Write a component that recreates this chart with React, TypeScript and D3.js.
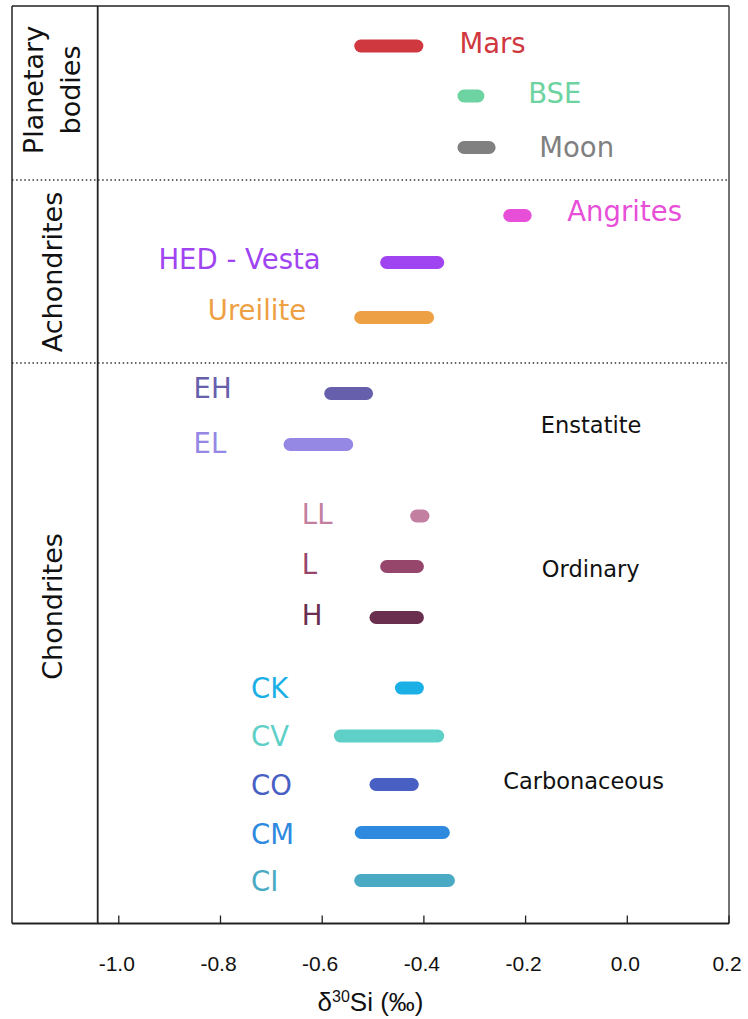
import React from "react";
import * as d3 from "d3";

const W = 748;
const H = 1019;

// rows (top to bottom)
const names = ["Mars","BSE","Moon","Angrites","HED - Vesta","Ureilite","EH","EL","LL","L","H","CK","CV","CO","CM","CI"];
const lows  = [-0.537,-0.334,-0.334,-0.244,-0.486,-0.537,-0.596,-0.676,-0.427,-0.486,-0.507,-0.457,-0.577,-0.507,-0.536,-0.537];
const highs = [-0.401,-0.281,-0.259,-0.188,-0.360,-0.380,-0.500,-0.539,-0.389,-0.400,-0.400,-0.400,-0.360,-0.410,-0.349,-0.339];
const colors = ["#d0383f","#6dd3a0","#808080","#e84fd8","#a044f2","#eea044","#6660ac","#9488e4","#c37fa0","#96466a","#6a2e4e","#1ab0e6","#5fd0c8","#4860c4","#2e8ade","#4aaac4"];
// row positions (row units, top = 0)
const rowPos = [0.8,1.8,2.83,4.19,5.13,6.23,7.75,8.77,10.2,11.21,12.23,13.64,14.6,15.57,16.53,17.49];
// label anchors (data units) and baseline offsets
const labelX = [-0.330,-0.195,-0.173,-0.118,-0.922,-0.825,-0.853,-0.853,-0.640,-0.640,-0.640,-0.740,-0.740,-0.740,-0.740,-0.740];
const labelDy = [7,7.3,9,5.3,6,2.7,4,8,7.7,7.6,7.3,10.3,10,10,11,10.3];

const ticks = [-1.0,-0.8,-0.6,-0.4,-0.2,0.0,0.2];
const separators = [3.48, 7.14];
const groupNames = ["Enstatite","Ordinary","Carbonaceous"];
const groupX = [-0.170, -0.168, -0.244];
const groupPos = [8.535, 11.415, 15.665];
const sections = [
  { lines: ["Planetary", "bodies"], pos: 1.68 },
  { lines: ["Achondrites"], pos: 5.32 },
  { lines: ["Chondrites"], pos: 12.01 },
];

export default function App() {
  const left = 12, right = 729, top = 6, bottom = 923.5;
  const x = d3.scaleLinear().domain([-1.21, 0.2]).range([left, right]);
  const y = d3.scaleLinear().domain([0, 18.35]).range([top, bottom]);
  const divider = 97.7;
  const barH = 13;
  const font = "'DejaVu Sans', Verdana, sans-serif";
  const axisFont = "'Liberation Sans', Arial, sans-serif";

  return (
    <svg width={W} height={H} style={{ position: "absolute", left: 0, top: 0 }}>
      <rect x={0} y={0} width={W} height={H} fill="#fff" />
      {/* separators */}
      {separators.map((s, i) => (
        <line key={"s" + i} x1={left} x2={right} y1={y(s)} y2={y(s)} stroke="#333" strokeWidth={1.5} strokeDasharray="1.5 2.6" />
      ))}
      {/* frame */}
      <line x1={left} x2={right} y1={top} y2={top} stroke="#222" strokeWidth={1.5} />
      <line x1={left} x2={left} y1={top} y2={bottom} stroke="#222" strokeWidth={1.5} />
      <line x1={right} x2={right} y1={top} y2={bottom} stroke="#444" strokeWidth={1.5} />
      <line x1={divider} x2={divider} y1={top} y2={bottom} stroke="#222" strokeWidth={1.8} />
      <line x1={left} x2={right} y1={bottom} y2={bottom} stroke="#222" strokeWidth={2} />
      {ticks.map((t) => (
        <g key={"t" + t}>
          <line x1={x(t)} x2={x(t)} y1={bottom} y2={bottom - 8} stroke="#222" strokeWidth={1.3} />
          <text x={x(t) - 2} y={971} textAnchor="middle" fontFamily={axisFont} fontSize={21} fill="#111">
            {d3.format(".1f")(t).replace("−", "-")}
          </text>
        </g>
      ))}
      <text x={(left + right) / 2} y={1011} textAnchor="middle" fontFamily={axisFont} fontSize={26} fill="#111">
        δ<tspan dy={-9} fontSize={16}>30</tspan><tspan dy={9}>Si (‰)</tspan>
      </text>
      {/* bars */}
      {names.map((n, i) => (
        <rect key={"b" + n} x={x(lows[i])} y={y(rowPos[i]) - barH / 2} width={x(highs[i]) - x(lows[i])} height={barH} rx={barH / 2} fill={colors[i]} />
      ))}
      {/* labels */}
      {names.map((n, i) => (
        <text key={"l" + n} x={x(labelX[i])} y={y(rowPos[i]) + labelDy[i]} fontFamily={font} fontSize={27.5} fill={colors[i]}>
          {n}
        </text>
      ))}
      {groupNames.map((g, i) => (
        <text key={"g" + g} x={x(groupX[i])} y={y(groupPos[i])} fontFamily={font} fontSize={22.5} fill="#111">
          {g}
        </text>
      ))}
      {sections.map((s, i) => {
        const cy = y(s.pos);
        const n = s.lines.length;
        return (
          <text key={"sec" + i} transform={`translate(0,${cy}) rotate(-90)`} textAnchor="middle" fontFamily={font} fontSize={27} fill="#111">
            {s.lines.map((l, j) => (
              <tspan key={j} x={0} y={n === 1 ? 61.5 : 43 + j * 37}>{l}</tspan>
            ))}
          </text>
        );
      })}
    </svg>
  );
}
